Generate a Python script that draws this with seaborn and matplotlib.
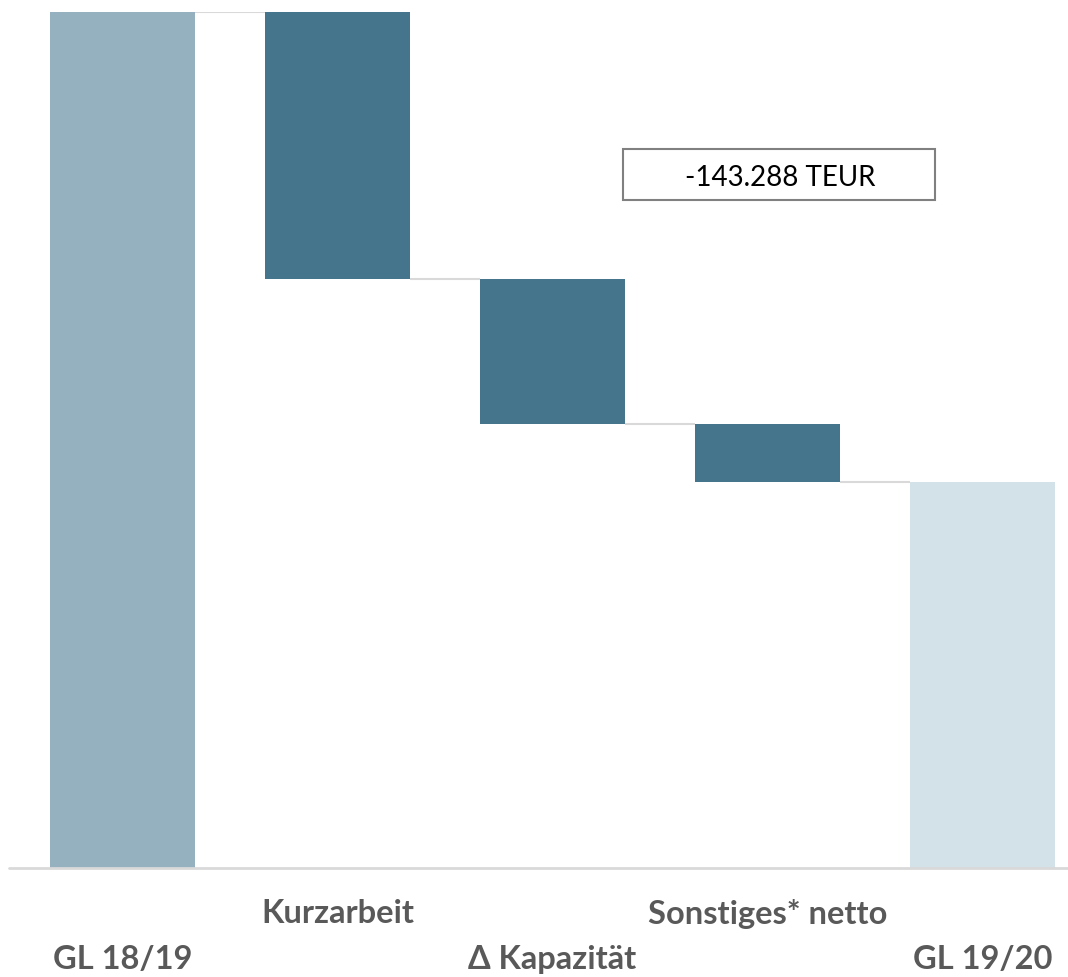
#!/usr/bin/env python3
"""
Waterfall chart: Personalkosten GL 18/19 -> GL 19/20 (TEUR).
"""

import numpy as np
import matplotlib
matplotlib.use("Agg")
import matplotlib.pyplot as plt
from matplotlib.patches import Rectangle
import seaborn as sns

# data (TEUR)
categories = ["GL 18/19", "Kurzarbeit", "\u0394 Kapazit\u00e4t", "Sonstiges* netto", "GL 19/20"]
start_value = 260.6
changes = [-81.4, -44.0, -17.9]
total_label = "-143.288 TEUR"

COL_START = "#95b1bf"
COL_STEP = "#44758c"
COL_END = "#d3e1e8"
COL_GRID = "#d9d9d9"
COL_LABEL = "#595959"


def waterfall(start, deltas):
    """Return bottoms and heights for every bar"""
    levels = np.concatenate([[start], start + np.cumsum(deltas)])
    end = levels[-1]
    bottoms = [0.0] + list(levels[1:]) + [0.0]
    heights = [start] + [-d for d in deltas] + [end]
    return np.array(bottoms), np.array(heights), levels


def main():
    sns.set_style("white")
    plt.rcParams["font.family"] = ["Lato", "DejaVu Sans"]

    bottoms, heights, levels = waterfall(start_value, changes)
    colors = [COL_START] + [COL_STEP] * len(changes) + [COL_END]

    fig = plt.figure(figsize=(10.68, 9.77), dpi=100)
    ax = fig.add_axes([0, 109 / 977, 1, 856.5 / 977])

    width = 0.674
    sns.barplot(x=categories, y=heights, bottom=bottoms, color=COL_STEP,
                width=width, ax=ax, linewidth=0, saturation=1)
    for patch, c in zip(ax.patches, colors):
        patch.set_facecolor(c)
        patch.set_clip_on(False)

    # connectors between bars
    for i, lvl in enumerate(levels):
        ax.plot([i + width / 2, i + 1 - width / 2], [lvl, lvl],
                color=COL_GRID, lw=1.5, zorder=1, solid_capstyle="butt")

    ax.set_xlim(-122.5 / 215, (1068 - 122.5) / 215)
    ax.set_ylim(0, start_value)

    # baseline
    ax.plot([-0.53, 4.5], [0, 0], color=COL_GRID, lw=2, zorder=3,
            clip_on=False)

    # staggered category labels
    ax.set_xticks([])
    ax.set_yticks([])
    for i, name in enumerate(categories):
        y = -0.107 if i % 2 == 0 else -0.0535
        ax.text(i, y, name, transform=ax.get_xaxis_transform(),
                ha="center", va="center", fontsize=23.5, fontweight="bold",
                color=COL_LABEL)

    # total difference box
    ax.add_patch(Rectangle((623 / 1068, (868 - 200) / 856.5), 312 / 1068,
                           51 / 856.5, transform=ax.transAxes,
                           facecolor="white", edgecolor="#808080", lw=1.5,
                           zorder=4))
    ax.text(780 / 1068, (868 - 178) / 856.5, total_label,
            transform=ax.transAxes, ha="center", va="center",
            fontsize=20, color="black", zorder=5)

    sns.despine(ax=ax, left=True, bottom=True)
    fig.savefig("out.png", dpi=100)
    plt.close(fig)


if __name__ == "__main__":
    main()
